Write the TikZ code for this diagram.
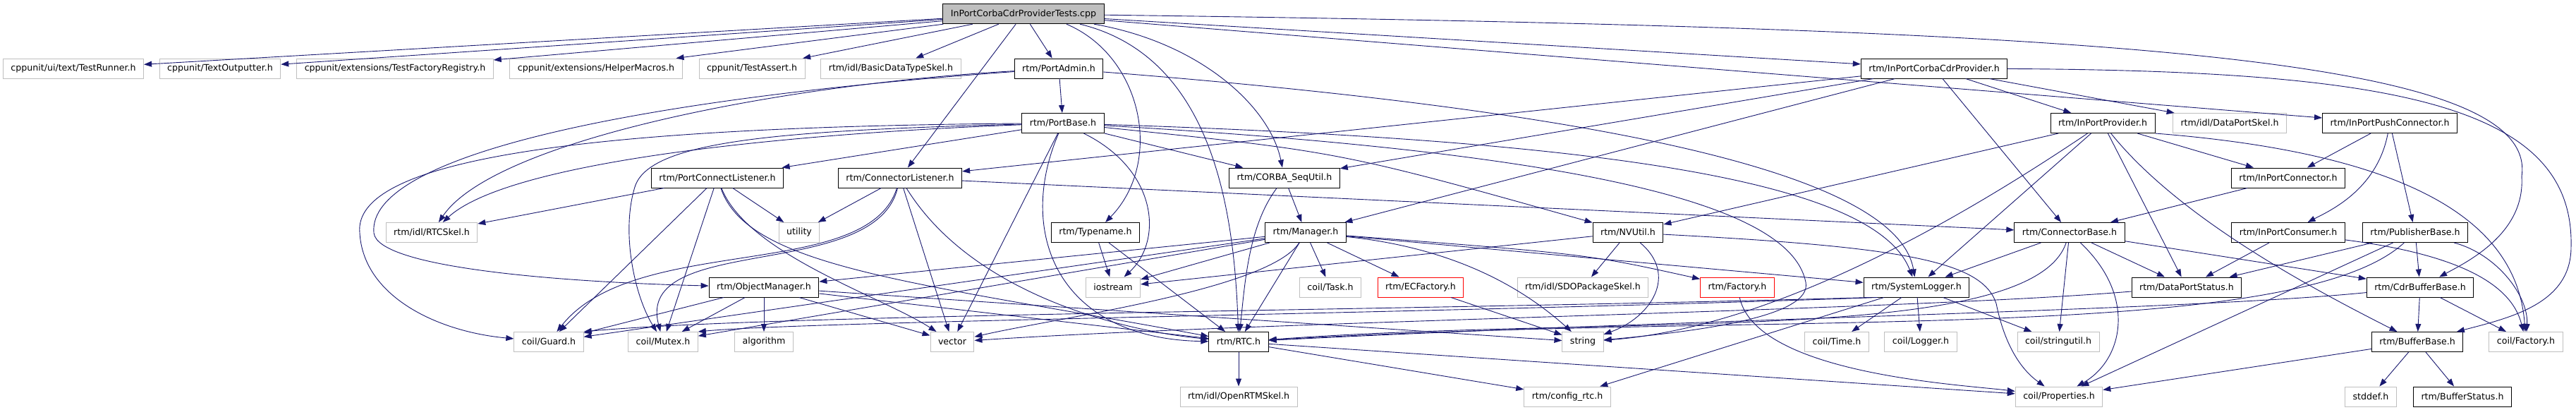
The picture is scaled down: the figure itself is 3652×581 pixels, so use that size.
\documentclass[tikz,border=0pt]{standalone}
\usepackage{fontspec}
\newfontfamily\dvs{DejaVu Sans}
\usetikzlibrary{arrows.meta}
\definecolor{edgeblue}{HTML}{191970}
\definecolor{extgray}{HTML}{BFBFBF}
\newcommand{\graphfont}{\dvs\fontsize{12.6pt}{15pt}\selectfont}
\begin{document}
\begin{tikzpicture}[x=1pt,y=-1pt,
  box/.style={draw=black, line width=1pt, minimum height=28pt, inner xsep=11pt, inner ysep=0pt, font=\graphfont, text=black, fill=white},
  ext/.style={box, draw=extgray},
  redbox/.style={box, draw=red},
  rootbox/.style={box, fill=extgray},
  edge/.style={draw=edgeblue, line width=0.9pt, -{Triangle[length=11pt,width=8pt]}}]
\useasboundingbox[fill=white] (0,0) rectangle (3652,581);
% row 1
\node[rootbox] (root) at (1451,19.7) {InPortCorbaCdrProviderTests.cpp};
% row 2
\node[ext] (testrunner) at (104,97) {cppunit/ui/text/TestRunner.h};
\node[ext] (textout) at (312,97) {cppunit/TextOutputter.h};
\node[ext] (tfreg) at (560,97) {cppunit/extensions/TestFactoryRegistry.h};
\node[ext] (helper) at (845,97) {cppunit/extensions/HelperMacros.h};
\node[ext] (tassert) at (1066,97) {cppunit/TestAssert.h};
\node[ext] (basicdt) at (1263,97) {rtm/idl/BasicDataTypeSkel.h};
\node[box] (portadmin) at (1501,97) {rtm/PortAdmin.h};
\node[box] (icdr) at (2742,97) {rtm/InPortCorbaCdrProvider.h};
% row 3
\node[box] (portbase) at (1507,174.5) {rtm/PortBase.h};
\node[box] (inprov) at (2981,174.5) {rtm/InPortProvider.h};
\node[ext] (dpskel) at (3161,174.5) {rtm/idl/DataPortSkel.h};
\node[box] (pushconn) at (3388,174.5) {rtm/InPortPushConnector.h};
% row 4
\node[box] (pclist) at (1017,252) {rtm/PortConnectListener.h};
\node[box] (clist) at (1276,252) {rtm/ConnectorListener.h};
\node[box] (sequtil) at (1821,252) {rtm/CORBA\_SeqUtil.h};
\node[box] (inconn) at (3244,252) {rtm/InPortConnector.h};
% row 5
\node[ext] (rtcskel) at (612,329.5) {rtm/idl/RTCSkel.h};
\node[ext] (utility) at (1133,329.5) {utility};
\node[box] (typename) at (1553,329.5) {rtm/Typename.h};
\node[box] (manager) at (1851,329.5) {rtm/Manager.h};
\node[box] (nvutil) at (2308,329.5) {rtm/NVUtil.h};
\node[box] (cbase) at (2934,329.5) {rtm/ConnectorBase.h};
\node[box] (inconsumer) at (3244,329.5) {rtm/InPortConsumer.h};
\node[box] (pubbase) at (3424,329.5) {rtm/PublisherBase.h};
% row 6
\node[box] (objmgr) at (1083,407) {rtm/ObjectManager.h};
\node[ext] (iostream) at (1578,407) {iostream};
\node[ext] (task) at (1886,407) {coil/Task.h};
\node[redbox] (ecfactory) at (2014,407) {rtm/ECFactory.h};
\node[ext] (sdoskel) at (2244,407) {rtm/idl/SDOPackageSkel.h};
\node[redbox] (rfactory) at (2463,407) {rtm/Factory.h};
\node[box] (syslog) at (2717,407) {rtm/SystemLogger.h};
\node[box] (dpstatus) at (3100,407) {rtm/DataPortStatus.h};
\node[box] (cdrbuf) at (3431,407) {rtm/CdrBufferBase.h};
% row 7
\node[ext] (guard) at (778,484.5) {coil/Guard.h};
\node[ext] (mutex) at (940,484.5) {coil/Mutex.h};
\node[ext] (algorithm) at (1083,484.5) {algorithm};
\node[ext] (vector) at (1350,484.5) {vector};
\node[box] (rtc) at (1756,484.5) {rtm/RTC.h};
\node[ext] (string) at (2244,484.5) {string};
\node[ext] (time) at (2604,484.5) {coil/Time.h};
\node[ext] (logger) at (2723,484.5) {coil/Logger.h};
\node[ext] (stringutil) at (2918,484.5) {coil/stringutil.h};
\node[box] (bufbase) at (3427,484.5) {rtm/BufferBase.h};
\node[ext] (cfactory) at (3581,484.5) {coil/Factory.h};
% row 8
\node[ext] (openrtm) at (1756,562) {rtm/idl/OpenRTMSkel.h};
\node[ext] (configrtc) at (2222,562) {rtm/config\_rtc.h};
\node[ext] (props) at (2919,562) {coil/Properties.h};
\node[ext] (stddef) at (3361,562) {stddef.h};
\node[box] (bufstatus) at (3491,562) {rtm/BufferStatus.h};

% ---- edges from root
\draw[edge] (root) -- (testrunner);
\draw[edge] (root) -- (textout);
\draw[edge] (root) -- (tfreg);
\draw[edge] (root) -- (helper);
\draw[edge] (root) -- (tassert);
\draw[edge] (root) -- (basicdt);
\draw[edge] (root) -- (portadmin);
\draw[edge] (root) -- (clist);
\draw[edge] ([xshift=61pt]root.south) .. controls (1620,80) and (1650,230) .. (typename);
\draw[edge] ([xshift=80pt]root.south) .. controls (1720,80) and (1750,300) .. (rtc);
\draw[edge] ([xshift=100pt]root.south) .. controls (1700,60) and (1800,150) .. (sequtil);
\draw[edge] (root) -- (icdr);
\draw[edge] (root) -- (pushconn);
\draw[edge] (root) .. controls (3000,40) and (3600,80) .. (3575,250) .. controls (3580,330) and (3500,370) .. (cdrbuf);
% ---- PortAdmin
\draw[edge] (portadmin) -- (portbase);
\draw[edge] (portadmin) .. controls (1100,120) and (700,200) .. (rtcskel);
\draw[edge] (portadmin) .. controls (900,140) and (520,220) .. (530,330) .. controls (535,380) and (800,400) .. (objmgr);
\draw[edge] (portadmin) .. controls (2300,160) and (2690,250) .. (syslog);
% ---- PortBase
\draw[edge] (portbase) .. controls (1100,190) and (720,230) .. (rtcskel);
\draw[edge] (portbase) .. controls (800,180) and (500,230) .. (510,330) .. controls (515,420) and (620,470) .. (guard);
\draw[edge] (portbase) .. controls (1100,185) and (920,200) .. (900,265) .. controls (880,330) and (900,420) .. (mutex);
\draw[edge] (portbase) -- (pclist);
\draw[edge] (portbase) -- (sequtil);
\draw[edge] (portbase) .. controls (1900,215) .. (nvutil);
\draw[edge] (portbase) .. controls (2300,200) and (2660,260) .. (syslog);
\draw[edge] (portbase) .. controls (2300,220) and (2540,300) .. (2560,400) .. controls (2570,450) and (2400,470) .. (string);
\draw[edge] (portbase) -- (vector);
\draw[edge] (portbase) .. controls (1440,330) and (1500,480) .. (rtc);
\draw[edge] (portbase) .. controls (1640,240) and (1650,340) .. (iostream);
% ---- PortConnectListener
\draw[edge] (pclist) -- (rtcskel);
\draw[edge] (pclist) -- (guard);
\draw[edge] (pclist) -- (mutex);
\draw[edge] (pclist) -- (utility);
\draw[edge] (pclist) .. controls (1060,360) and (1250,420) .. (vector);
\draw[edge] (pclist) .. controls (1060,380) and (1300,400) .. (rtc);
% ---- ConnectorListener
\draw[edge] (clist) -- (utility);
\draw[edge] (clist) .. controls (1230,400) and (900,330) .. (guard);
\draw[edge] (clist) .. controls (1240,400) and (900,330) .. (mutex);
\draw[edge] (clist) -- (vector);
\draw[edge] (clist) .. controls (1380,420) and (1600,470) .. (rtc);
\draw[edge] (clist) -- (cbase);
% ---- ObjectManager
\draw[edge] (objmgr) -- (guard);
\draw[edge] (objmgr) -- (mutex);
\draw[edge] (objmgr) -- (algorithm);
\draw[edge] (objmgr) -- (vector);
\draw[edge] (objmgr) -- (string);
\draw[edge] (objmgr) -- (rtc);
% ---- Typename
\draw[edge] (typename) -- (iostream);
\draw[edge] (typename) -- (rtc);
% ---- CORBA_SeqUtil
\draw[edge] (sequtil) -- (manager);
\draw[edge] (sequtil) .. controls (1770,320) and (1765,400) .. (rtc);
% ---- Manager
\draw[edge] (manager) -- (objmgr);
\draw[edge] (manager) -- (guard);
\draw[edge] (manager) -- (mutex);
\draw[edge] (manager) -- (iostream);
\draw[edge] (manager) .. controls (1800,410) and (1500,450) .. (vector);
\draw[edge] (manager) -- (rtc);
\draw[edge] (manager) -- (task);
\draw[edge] (manager) -- (ecfactory);
\draw[edge] (manager) .. controls (2050,350) and (2150,400) .. (string);
\draw[edge] (manager) .. controls (2250,360) .. (rfactory);
\draw[edge] (manager) -- (syslog);
% ---- NVUtil
\draw[edge] (nvutil) -- (iostream);
\draw[edge] (nvutil) -- (sdoskel);
\draw[edge] (nvutil) .. controls (2380,390) and (2340,450) .. (string);
\draw[edge] (nvutil) .. controls (2700,350) and (2810,370) .. (2830,430) .. controls (2840,480) and (2860,520) .. (props);
% ---- factories
\draw[edge] (ecfactory) -- (string);
\draw[edge] (rfactory) .. controls (2490,530) and (2780,545) .. (props);
% ---- SystemLogger
\draw[edge] ([xshift=10pt]syslog.south west) .. controls (2000,440) and (1100,445) .. (guard.north east);
\draw[edge] ([xshift=20pt]syslog.south west) .. controls (2000,445) and (1150,455) .. (mutex.north east);
\draw[edge] (syslog) -- (time);
\draw[edge] (syslog) -- (logger);
\draw[edge] (syslog) -- (stringutil);
\draw[edge] (syslog) -- (configrtc);
% ---- RTC
\draw[edge] (rtc) -- (openrtm);
\draw[edge] (rtc) -- (configrtc);
\draw[edge] (rtc) -- (props);
% ---- InPortCorbaCdrProvider
\draw[edge] (icdr) -- (clist);
\draw[edge] (icdr) -- (sequtil);
\draw[edge] (icdr) -- (manager);
\draw[edge] (icdr) -- (inprov);
\draw[edge] (icdr) -- (dpskel);
\draw[edge] (icdr) -- (cbase);
\draw[edge] (icdr) .. controls (3400,100) and (3650,150) .. (3645,350) .. controls (3645,430) and (3560,450) .. (bufbase);
% ---- InPortProvider
\draw[edge] (inprov) -- (nvutil);
\draw[edge] (inprov) .. controls (2750,330) and (2500,465) .. (string);
\draw[edge] (inprov) -- (syslog);
\draw[edge] (inprov) -- (dpstatus);
\draw[edge] (inprov) .. controls (3090,310) and (3280,410) .. (bufbase);
\draw[edge] (inprov) -- (inconn);
\draw[edge] (inprov.south east) .. controls (3450,220) and (3570,330) .. (cfactory);
% ---- InPortPushConnector
\draw[edge] (pushconn) -- (inconn);
\draw[edge] (pushconn) .. controls (3370,270) and (3300,300) .. (inconsumer);
\draw[edge] (pushconn) -- (pubbase);
% ---- InPortConnector
\draw[edge] (inconn) -- (cbase);
% ---- ConnectorBase
\draw[edge] (cbase) -- (syslog);
\draw[edge] (cbase) -- (stringutil);
\draw[edge] (cbase) .. controls (3030,420) and (3010,510) .. (props);
\draw[edge] (cbase) -- (dpstatus);
\draw[edge] (cbase) -- (cdrbuf);
\draw[edge] (cbase) .. controls (2880,490) and (2300,445) .. (rtc);
% ---- InPortConsumer
\draw[edge] (inconsumer) -- (dpstatus);
\draw[edge] (inconsumer) .. controls (3480,360) and (3560,400) .. (cfactory);
% ---- PublisherBase
\draw[edge] (pubbase) -- (dpstatus);
\draw[edge] (pubbase) -- (cdrbuf);
\draw[edge] (pubbase) .. controls (3540,360) and (3585,420) .. (cfactory);
\draw[edge] (pubbase) -- (props);
\draw[edge] (pubbase) .. controls (3250,490) and (2500,440) .. (rtc);
% ---- DataPortStatus
\draw[edge] ([yshift=-6pt]dpstatus.west) .. controls (2700,440) and (1800,455) .. (vector);
% ---- CdrBufferBase
\draw[edge] (cdrbuf) -- (bufbase);
\draw[edge] (cdrbuf) -- (cfactory);
\draw[edge] (cdrbuf) .. controls (3100,440) and (2400,452) .. (rtc);
% ---- BufferBase
\draw[edge] (bufbase) -- (stddef);
\draw[edge] (bufbase) -- (bufstatus);
\draw[edge] (bufbase) -- (props);
\end{tikzpicture}
\end{document}
